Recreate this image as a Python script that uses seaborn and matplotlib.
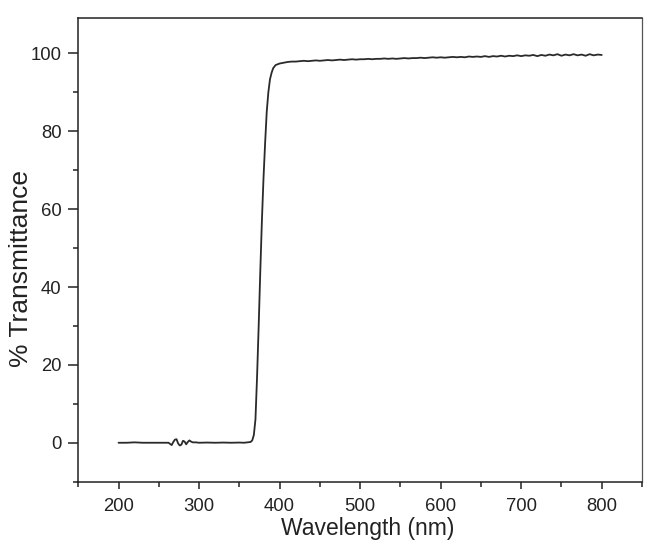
import matplotlib
matplotlib.use("Agg")
import matplotlib.pyplot as plt
import seaborn as sns
import pandas as pd
from matplotlib.ticker import MultipleLocator

# ---- data ----
wl_low = [200, 210, 220, 230, 240, 250, 260, 262, 264, 266, 268, 270, 272, 274, 276,
          278, 280, 282, 284, 286, 288, 290, 292, 296, 300, 310, 320, 330, 340, 350,
          356, 360, 364]
tr_low = [0.0, 0.0, 0.1, 0.0, 0.0, 0.0, 0.0, 0.0, -0.3, -0.6, 0.2, 0.8, 0.9, -0.2, -0.7,
          -0.5, 0.5, 0.3, -0.4, 0.2, 0.6, 0.3, 0.1, 0.1, 0.0, 0.05, 0.0, 0.05, 0.0, 0.05,
          0.0, 0.1, 0.2]

wl_edge = [366, 368, 370, 372, 374, 376, 378, 380, 382, 384, 386, 388, 390, 392, 395]
tr_edge = [0.6, 2.0, 6.0, 17.0, 30.0, 44.0, 57.0, 68.0, 77.0, 85.0, 90.0, 93.3, 95.0,
           96.2, 97.0]

wl_plat = list(range(400, 805, 5))
tr_plat = [97.4, 97.6, 97.8, 97.9, 97.9, 98.0, 98.1, 98.0, 98.1, 98.2, 98.1, 98.2, 98.3,
           98.2, 98.3, 98.4, 98.3, 98.4, 98.5, 98.4, 98.5, 98.5, 98.6, 98.5, 98.6, 98.6,
           98.7, 98.6, 98.7, 98.6, 98.7, 98.8, 98.7, 98.8, 98.8, 98.9, 98.8, 98.9, 99.0,
           98.9, 99.0, 98.9, 99.0, 99.1, 99.0, 99.1, 99.0, 99.2, 99.1, 99.2, 99.1, 99.3,
           99.1, 99.3, 99.2, 99.4, 99.2, 99.4, 99.3, 99.5, 99.3, 99.5, 99.4, 99.6, 99.3,
           99.6, 99.4, 99.7, 99.5, 99.8, 99.4, 99.7, 99.5, 99.8, 99.5, 99.7, 99.4, 99.8,
           99.5, 99.7, 99.6]

x_ticks = [200, 300, 400, 500, 600, 700, 800]
y_ticks = [0, 20, 40, 60, 80, 100]

df = pd.DataFrame({
    "Wavelength (nm)": wl_low + wl_edge + wl_plat,
    "% Transmittance": tr_low + tr_edge + tr_plat,
})

sns.set_style("ticks")
plt.rcParams["font.family"] = ["Liberation Sans", "DejaVu Sans"]

fig = plt.figure(figsize=(6.46, 5.40), dpi=100)
ax = fig.add_axes([0.1212, 0.108, 0.8726, 0.858])

sns.lineplot(data=df, x="Wavelength (nm)", y="% Transmittance", ax=ax,
             color="#2a2a2a", linewidth=1.3, estimator=None, sort=False)

ax.set_xlim(150, 850)
ax.set_ylim(-10, 109)
ax.set_xticks(x_ticks)
ax.set_yticks(y_ticks)
ax.xaxis.set_minor_locator(MultipleLocator(50))
ax.yaxis.set_minor_locator(MultipleLocator(10))

for s in ["top", "right", "left", "bottom"]:
    ax.spines[s].set_visible(True)
    ax.spines[s].set_linewidth(1.1)
    ax.spines[s].set_color("#222222")
ax.spines["right"].set_linewidth(0.9)
ax.spines["right"].set_color("#555555")

ax.tick_params(axis="x", which="major", length=5, width=1.1, labelsize=13.3,
               colors="#222222", pad=7)
ax.tick_params(axis="x", which="minor", length=3.5, width=1.1, colors="#222222")
ax.tick_params(axis="y", which="major", length=7, width=1.1, labelsize=13.3,
               colors="#222222", pad=5)
ax.tick_params(axis="y", which="minor", length=3.5, width=1.1, colors="#222222")
ax.tick_params(top=False, right=False, which="both", direction="out")

ax.set_xlabel("Wavelength (nm)", fontsize=16.5, color="#222222")
ax.set_ylabel("% Transmittance", fontsize=19, color="#222222")
ax.xaxis.set_label_coords(0.514, -0.077)
ax.yaxis.set_label_coords(-0.0804, 0.461)

fig.savefig("out.png", dpi=100, facecolor="white")
